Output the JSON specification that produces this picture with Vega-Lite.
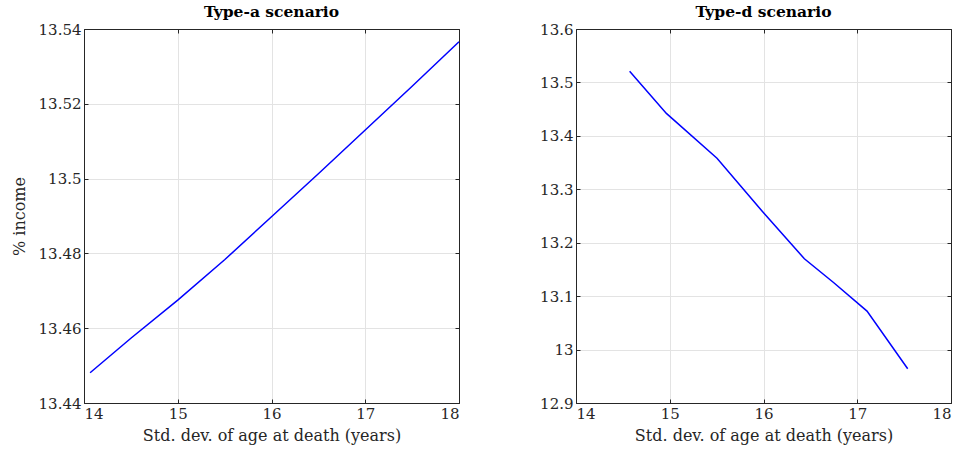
{
  "$schema": "https://vega.github.io/schema/vega-lite/v6.json",
  "background": "white",
  "padding": {"left": 10, "top": 4, "right": 5, "bottom": 2},
  "spacing": 79,
  "config": {
    "font": "DejaVu Serif",
    "view": {"stroke": "#262626", "strokeWidth": 1},
    "title": {"font": "DejaVu Serif", "fontSize": 15.5, "fontWeight": "bold", "color": "#000000", "offset": 2},
    "axis": {
      "labelFont": "DejaVu Serif", "labelFontSize": 15, "labelColor": "#262626",
      "titleFont": "DejaVu Serif", "titleFontSize": 16, "titleColor": "#262626", "titleFontWeight": "normal",
      "domainColor": "#262626", "tickColor": "#262626", "tickSize": -4,
      "gridColor": "#e3e3e3", "gridOpacity": 1, "labelPadding": 7
    }
  },
  "datasets": {
    "a": [
      {"x": 14.065, "y": 13.4481},
      {"x": 14.5, "y": 13.4573},
      {"x": 15.0, "y": 13.4675},
      {"x": 15.5, "y": 13.4783},
      {"x": 16.0, "y": 13.4898},
      {"x": 16.5, "y": 13.5013},
      {"x": 17.0, "y": 13.5130},
      {"x": 17.5, "y": 13.5247},
      {"x": 18.0, "y": 13.5366}
    ],
    "d": [
      {"x": 14.572, "y": 13.521},
      {"x": 14.964, "y": 13.442},
      {"x": 15.504, "y": 13.358},
      {"x": 15.991, "y": 13.258},
      {"x": 16.436, "y": 13.170},
      {"x": 16.75, "y": 13.125},
      {"x": 17.104, "y": 13.072},
      {"x": 17.538, "y": 12.964}
    ]
  },
  "hconcat": [
    {
      "title": "Type-a scenario",
      "width": 375, "height": 374,
      "data": {"name": "a"},
      "layer": [
        {
          "mark": {"type": "line", "color": "#0000ff", "strokeWidth": 1.5, "clip": true},
          "encoding": {
            "x": {"field": "x", "type": "quantitative", "scale": {"domain": [14, 18], "nice": false, "zero": false},
                  "axis": {"values": [14, 15, 16, 17, 18], "title": "Std. dev. of age at death (years)", "titlePadding": 6}},
            "y": {"field": "y", "type": "quantitative", "scale": {"domain": [13.44, 13.54], "nice": false, "zero": false},
                  "axis": {"values": [13.44, 13.46, 13.48, 13.5, 13.52, 13.54], "format": "~g", "title": "% income", "titlePadding": 11}}
          }
        },
        {
          "mark": {"type": "line", "opacity": 0},
          "encoding": {
            "x": {"field": "x", "type": "quantitative", "scale": {"domain": [14, 18], "nice": false, "zero": false},
                  "axis": {"values": [14, 15, 16, 17, 18], "labels": false, "grid": false, "title": null, "orient": "top"}},
            "y": {"field": "y", "type": "quantitative", "scale": {"domain": [13.44, 13.54], "nice": false, "zero": false},
                  "axis": {"values": [13.44, 13.46, 13.48, 13.5, 13.52, 13.54], "labels": false, "grid": false, "title": null, "orient": "right"}}
          }
        }
      ],
      "resolve": {"axis": {"x": "independent", "y": "independent"}}
    },
    {
      "title": "Type-d scenario",
      "width": 375, "height": 374,
      "data": {"name": "d"},
      "layer": [
        {
          "mark": {"type": "line", "color": "#0000ff", "strokeWidth": 1.5, "clip": true},
          "encoding": {
            "x": {"field": "x", "type": "quantitative", "scale": {"domain": [14, 18], "nice": false, "zero": false},
                  "axis": {"values": [14, 15, 16, 17, 18], "title": "Std. dev. of age at death (years)", "titlePadding": 6}},
            "y": {"field": "y", "type": "quantitative", "scale": {"domain": [12.9, 13.6], "nice": false, "zero": false},
                  "axis": {"values": [12.9, 13.0, 13.1, 13.2, 13.3, 13.4, 13.5, 13.6], "format": "~g", "title": null}}
          }
        },
        {
          "mark": {"type": "line", "opacity": 0},
          "encoding": {
            "x": {"field": "x", "type": "quantitative", "scale": {"domain": [14, 18], "nice": false, "zero": false},
                  "axis": {"values": [14, 15, 16, 17, 18], "labels": false, "grid": false, "title": null, "orient": "top"}},
            "y": {"field": "y", "type": "quantitative", "scale": {"domain": [12.9, 13.6], "nice": false, "zero": false},
                  "axis": {"values": [12.9, 13.0, 13.1, 13.2, 13.3, 13.4, 13.5, 13.6], "labels": false, "grid": false, "title": null, "orient": "right"}}
          }
        }
      ],
      "resolve": {"axis": {"x": "independent", "y": "independent"}}
    }
  ]
}
